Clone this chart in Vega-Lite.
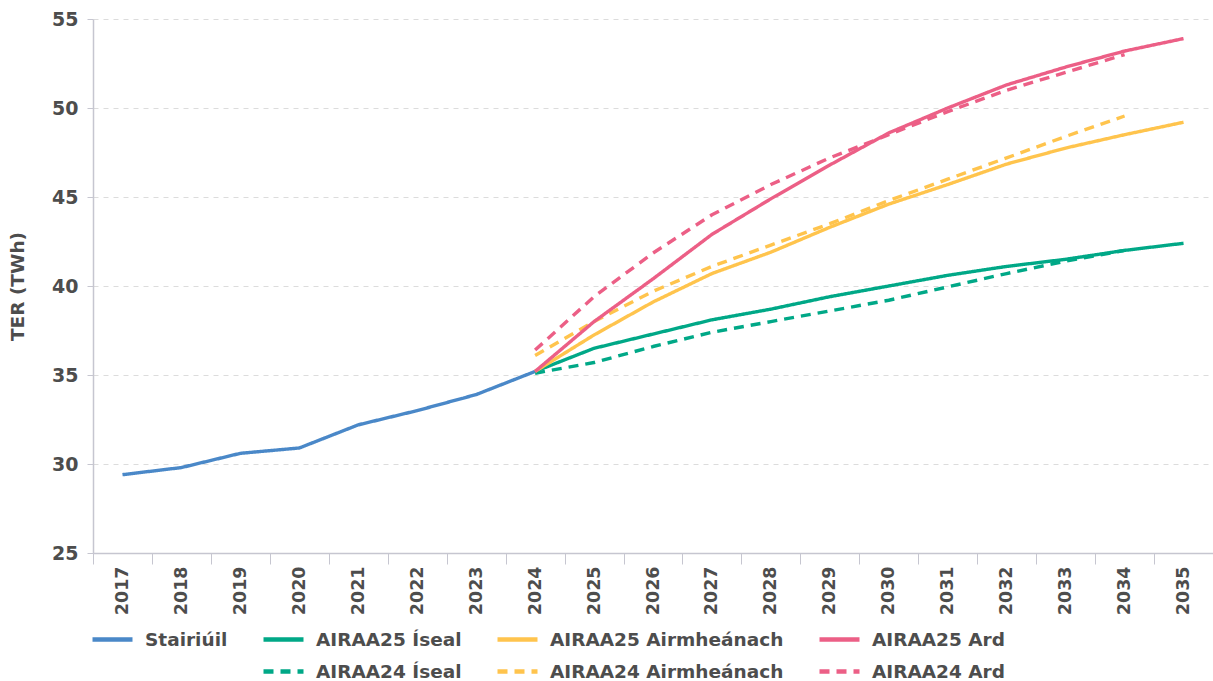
{
  "$schema": "https://vega.github.io/schema/vega-lite/v6.json",
  "autosize": {"type": "none"},
  "padding": {"left": 93, "top": 19, "right": 0, "bottom": 128},
  "width": 1120,
  "height": 534,
  "background": "white",
  "config": {
    "view": {"stroke": null},
    "font": "DejaVu Sans",
    "axis": {"labelFont": "DejaVu Sans", "titleFont": "DejaVu Sans", "labelColor": "#4d4d4d", "titleColor": "#4d4d4d", "labelFontWeight": "bold", "titleFontWeight": "bold", "domainColor": "#c6c6d0", "tickColor": "#c6c6d0"}
  },
  "data": {"values": [
    {"year": "2017", "series": "Stairiúil", "value": 29.4},
    {"year": "2018", "series": "Stairiúil", "value": 29.8},
    {"year": "2019", "series": "Stairiúil", "value": 30.6},
    {"year": "2020", "series": "Stairiúil", "value": 30.9},
    {"year": "2021", "series": "Stairiúil", "value": 32.2},
    {"year": "2022", "series": "Stairiúil", "value": 33.0},
    {"year": "2023", "series": "Stairiúil", "value": 33.9},
    {"year": "2024", "series": "Stairiúil", "value": 35.2},

    {"year": "2024", "series": "AIRAA24 Íseal", "value": 35.1},
    {"year": "2025", "series": "AIRAA24 Íseal", "value": 35.7},
    {"year": "2026", "series": "AIRAA24 Íseal", "value": 36.6},
    {"year": "2027", "series": "AIRAA24 Íseal", "value": 37.4},
    {"year": "2028", "series": "AIRAA24 Íseal", "value": 38.0},
    {"year": "2029", "series": "AIRAA24 Íseal", "value": 38.6},
    {"year": "2030", "series": "AIRAA24 Íseal", "value": 39.2},
    {"year": "2031", "series": "AIRAA24 Íseal", "value": 39.95},
    {"year": "2032", "series": "AIRAA24 Íseal", "value": 40.7},
    {"year": "2033", "series": "AIRAA24 Íseal", "value": 41.4},
    {"year": "2034", "series": "AIRAA24 Íseal", "value": 42.0},

    {"year": "2024", "series": "AIRAA24 Airmheánach", "value": 36.1},
    {"year": "2025", "series": "AIRAA24 Airmheánach", "value": 38.0},
    {"year": "2026", "series": "AIRAA24 Airmheánach", "value": 39.7},
    {"year": "2027", "series": "AIRAA24 Airmheánach", "value": 41.1},
    {"year": "2028", "series": "AIRAA24 Airmheánach", "value": 42.3},
    {"year": "2029", "series": "AIRAA24 Airmheánach", "value": 43.5},
    {"year": "2030", "series": "AIRAA24 Airmheánach", "value": 44.8},
    {"year": "2031", "series": "AIRAA24 Airmheánach", "value": 46.0},
    {"year": "2032", "series": "AIRAA24 Airmheánach", "value": 47.2},
    {"year": "2033", "series": "AIRAA24 Airmheánach", "value": 48.4},
    {"year": "2034", "series": "AIRAA24 Airmheánach", "value": 49.55},

    {"year": "2024", "series": "AIRAA24 Ard", "value": 36.4},
    {"year": "2025", "series": "AIRAA24 Ard", "value": 39.4},
    {"year": "2026", "series": "AIRAA24 Ard", "value": 41.85},
    {"year": "2027", "series": "AIRAA24 Ard", "value": 44.0},
    {"year": "2028", "series": "AIRAA24 Ard", "value": 45.7},
    {"year": "2029", "series": "AIRAA24 Ard", "value": 47.2},
    {"year": "2030", "series": "AIRAA24 Ard", "value": 48.5},
    {"year": "2031", "series": "AIRAA24 Ard", "value": 49.8},
    {"year": "2032", "series": "AIRAA24 Ard", "value": 51.0},
    {"year": "2033", "series": "AIRAA24 Ard", "value": 52.0},
    {"year": "2034", "series": "AIRAA24 Ard", "value": 53.0},

    {"year": "2024", "series": "AIRAA25 Íseal", "value": 35.2},
    {"year": "2025", "series": "AIRAA25 Íseal", "value": 36.5},
    {"year": "2026", "series": "AIRAA25 Íseal", "value": 37.3},
    {"year": "2027", "series": "AIRAA25 Íseal", "value": 38.1},
    {"year": "2028", "series": "AIRAA25 Íseal", "value": 38.7},
    {"year": "2029", "series": "AIRAA25 Íseal", "value": 39.4},
    {"year": "2030", "series": "AIRAA25 Íseal", "value": 40.0},
    {"year": "2031", "series": "AIRAA25 Íseal", "value": 40.6},
    {"year": "2032", "series": "AIRAA25 Íseal", "value": 41.1},
    {"year": "2033", "series": "AIRAA25 Íseal", "value": 41.5},
    {"year": "2034", "series": "AIRAA25 Íseal", "value": 42.0},
    {"year": "2035", "series": "AIRAA25 Íseal", "value": 42.4},

    {"year": "2024", "series": "AIRAA25 Airmheánach", "value": 35.2},
    {"year": "2025", "series": "AIRAA25 Airmheánach", "value": 37.25},
    {"year": "2026", "series": "AIRAA25 Airmheánach", "value": 39.1},
    {"year": "2027", "series": "AIRAA25 Airmheánach", "value": 40.7},
    {"year": "2028", "series": "AIRAA25 Airmheánach", "value": 41.9},
    {"year": "2029", "series": "AIRAA25 Airmheánach", "value": 43.3},
    {"year": "2030", "series": "AIRAA25 Airmheánach", "value": 44.6},
    {"year": "2031", "series": "AIRAA25 Airmheánach", "value": 45.7},
    {"year": "2032", "series": "AIRAA25 Airmheánach", "value": 46.85},
    {"year": "2033", "series": "AIRAA25 Airmheánach", "value": 47.75},
    {"year": "2034", "series": "AIRAA25 Airmheánach", "value": 48.5},
    {"year": "2035", "series": "AIRAA25 Airmheánach", "value": 49.2},

    {"year": "2024", "series": "AIRAA25 Ard", "value": 35.2},
    {"year": "2025", "series": "AIRAA25 Ard", "value": 38.0},
    {"year": "2026", "series": "AIRAA25 Ard", "value": 40.4},
    {"year": "2027", "series": "AIRAA25 Ard", "value": 42.9},
    {"year": "2028", "series": "AIRAA25 Ard", "value": 44.9},
    {"year": "2029", "series": "AIRAA25 Ard", "value": 46.8},
    {"year": "2030", "series": "AIRAA25 Ard", "value": 48.6},
    {"year": "2031", "series": "AIRAA25 Ard", "value": 50.0},
    {"year": "2032", "series": "AIRAA25 Ard", "value": 51.3},
    {"year": "2033", "series": "AIRAA25 Ard", "value": 52.3},
    {"year": "2034", "series": "AIRAA25 Ard", "value": 53.2},
    {"year": "2035", "series": "AIRAA25 Ard", "value": 53.9}
  ]},
  "mark": {"type": "line", "strokeWidth": 3.4, "strokeCap": "butt", "strokeJoin": "round"},
  "encoding": {
    "x": {
      "field": "year", "type": "ordinal", "bandPosition": 0.5,
      "scale": {"type": "band", "paddingInner": 0, "paddingOuter": 0},
      "axis": {"title": null, "labelAngle": -90, "labelAlign": "right", "labelBaseline": "middle", "labelFontSize": 17.5, "labelPadding": 2, "tickBand": "extent", "tickSize": 11, "grid": false, "domainWidth": 1.5}
    },
    "y": {
      "field": "value", "type": "quantitative",
      "scale": {"domain": [25, 55], "nice": false, "zero": false},
      "axis": {"title": "TER (TWh)", "titleFontSize": 18.5, "titlePadding": 24, "values": [25, 30, 35, 40, 45, 50, 55], "labelFontSize": 19, "labelPadding": 9, "tickSize": 6, "grid": true, "gridColor": "#dcdcdc", "gridDash": [5, 5], "gridWidth": 1, "domainWidth": 1.5}
    },
    "color": {
      "field": "series", "type": "nominal",
      "scale": {
        "domain": ["Stairiúil", "AIRAA25 Íseal", "AIRAA25 Airmheánach", "AIRAA25 Ard", " ", "AIRAA24 Íseal", "AIRAA24 Airmheánach", "AIRAA24 Ard"],
        "range": ["#4a88c8", "#00a887", "#ffc44d", "#ec5f86", "transparent", "#00a887", "#ffc44d", "#ec5f86"]
      },
      "legend": {
        "title": null, "orient": "none", "legendX": -3, "legendY": 598, "columns": 4, "direction": "horizontal",
        "symbolType": "stroke", "symbolSize": 1600, "symbolStrokeWidth": 4.5, "labelFontSize": 18.5, "labelFont": "DejaVu Sans", "labelFontWeight": "bold", "labelColor": "#4d4d4d", "labelOffset": 10, "columnPadding": 26, "rowPadding": -4, "labelLimit": 400
      }
    },
    "strokeDash": {
      "field": "series", "type": "nominal",
      "scale": {
        "domain": ["Stairiúil", "AIRAA25 Íseal", "AIRAA25 Airmheánach", "AIRAA25 Ard", " ", "AIRAA24 Íseal", "AIRAA24 Airmheánach", "AIRAA24 Ard"],
        "range": [[1, 0], [1, 0], [1, 0], [1, 0], [1, 0], [10, 7], [10, 7], [10, 7]]
      },
      "legend": null
    }
  }
}
